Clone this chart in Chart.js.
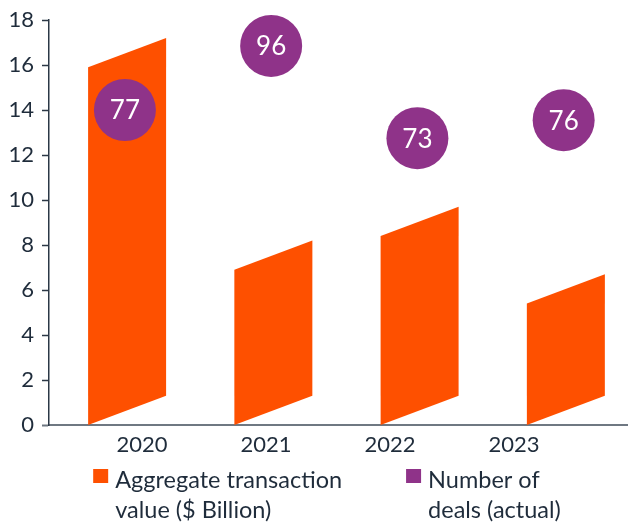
<!DOCTYPE html>
<html>
<head>
<meta charset="utf-8">
<script src="https://cdn.jsdelivr.net/npm/chart.js@4.4.0/dist/chart.umd.min.js"></script>
<style>
  html, body { margin: 0; padding: 0; background: #ffffff; }
  #wrap { width: 628px; height: 523px; }
</style>
</head>
<body>
<div id="wrap"><canvas id="dealChart"></canvas></div>
<script>
// Values
const years = ['2020', '2021', '2022', '2023'];
const aggregateValue = [15.9, 6.9, 8.4, 5.4];        // $ Billion
const dealCount = [77, 96, 73, 76];
const dealMarkerLevel = [14.0, 16.85, 12.75, 13.55];  // height of each deals bubble on the value axis
const valueTicks = [0, 2, 4, 6, 8, 10, 12, 14, 16, 18];
const legendLines = [
    ['Aggregate transaction', 'value ($ Billion)'],
    ['Number of', 'deals (actual)']
];

const ORANGE = '#fe5000';
const PURPLE = '#8f3389';
const TEXT = '#1f2c3b';
const AXIS_GREY = '#6f7882';
const FONT = 'Lato, "Open Sans", sans-serif';
const BAR_SLANT = 1.3;   // the bars are drawn as parallelograms

/**
 * Draw each bar as a slanted parallelogram using the bar element geometry
 */
const slantedBars = {
    id: 'slantedBars',
    afterDatasetDraw(chart, args) {
        if (args.index !== 0) return;
        const ctx = chart.ctx;
        const yScale = chart.scales.y;
        ctx.save();
        ctx.fillStyle = ORANGE;
        args.meta.data.forEach((bar, i) => {
            const left = bar.x - bar.width / 2;
            const right = bar.x + bar.width / 2;
            const v = aggregateValue[i];
            ctx.beginPath();
            ctx.moveTo(left, yScale.getPixelForValue(0));
            ctx.lineTo(right, yScale.getPixelForValue(BAR_SLANT));
            ctx.lineTo(right, yScale.getPixelForValue(v + BAR_SLANT));
            ctx.lineTo(left, yScale.getPixelForValue(v));
            ctx.closePath();
            ctx.fill();
        });
        ctx.restore();
    }
};

/**
 * Write the deal counts inside the bubbles
 */
const bubbleLabels = {
    id: 'bubbleLabels',
    afterDatasetsDraw(chart) {
        const ctx = chart.ctx;
        const meta = chart.getDatasetMeta(1);
        ctx.save();
        ctx.fillStyle = '#ffffff';
        ctx.font = '26px ' + FONT;
        ctx.textAlign = 'center';
        ctx.textBaseline = 'middle';
        meta.data.forEach((pt, i) => {
            ctx.fillText(String(dealCount[i]), pt.x, pt.y + 1);
        });
        ctx.restore();
    }
};

/**
 * Two-line legend under the axis
 */
const twoLineLegend = {
    id: 'twoLineLegend',
    afterDraw(chart) {
        const ctx = chart.ctx;
        const colors = [ORANGE, PURPLE];
        const boxW = 15, boxH = 14, boxGap = 7, itemGap = 64, lineH = 30;
        ctx.save();
        ctx.font = '23.5px ' + FONT;
        const widths = legendLines.map(lines =>
            boxW + boxGap + Math.max(...lines.map(t => ctx.measureText(t).width)));
        const total = widths.reduce((a, b) => a + b, 0) + itemGap * (widths.length - 1);
        let x = chart.width / 2 + 13 - total / 2;
        const top = chart.chartArea.bottom + 44;
        legendLines.forEach((lines, i) => {
            ctx.fillStyle = colors[i];
            ctx.fillRect(x, top, boxW, boxH);
            ctx.fillStyle = TEXT;
            ctx.textAlign = 'left';
            ctx.textBaseline = 'middle';
            lines.forEach((t, j) => {
                ctx.fillText(t, x + boxW + boxGap, top + 11 + j * lineH);
            });
            x += widths[i] + itemGap;
        });
        ctx.restore();
    }
};

const ctx = document.getElementById('dealChart').getContext('2d');
new Chart(ctx, {
    type: 'bar',
    data: {
        datasets: [
            {
                label: legendLines[0].join(' '),
                data: aggregateValue.map((v, i) => ({ x: i, y: v })),
                backgroundColor: 'rgba(0,0,0,0)',
                barThickness: 78,
                order: 2
            },
            {
                type: 'line',
                label: legendLines[1].join(' '),
                data: dealMarkerLevel.map((v, i) => ({ x: i - 0.015, y: v })),
                showLine: false,
                pointRadius: 31,
                pointHoverRadius: 31,
                pointBackgroundColor: PURPLE,
                pointBorderWidth: 0,
                clip: false,
                order: 1
            }
        ]
    },
    options: {
        responsive: true,
        maintainAspectRatio: false,
        animation: false,
        layout: {
            autoPadding: false,
            padding: { top: 20, left: 6, right: 0, bottom: 64 }
        },
        plugins: {
            legend: { display: false },
            tooltip: { enabled: false }
        },
        scales: {
            x: {
                type: 'linear',
                display: false,
                min: -0.534,
                max: 3.425,
                offset: false
            },
            x2: {
                type: 'linear',
                position: 'bottom',
                min: -0.75,
                max: 3.92,
                offset: false,
                bounds: 'data',
                afterBuildTicks: (axis) => {
                    axis.ticks = years.map((_, i) => ({ value: i }));
                },
                afterFit: (scale) => {
                    scale.paddingLeft = 0;
                    scale.paddingRight = 0;
                    scale.height = 34;
                },
                grid: { display: false, drawTicks: false, offset: false },
                border: { display: true, color: AXIS_GREY, width: 2 },
                ticks: {
                    callback: (v) => years[v],
                    color: TEXT,
                    font: { family: FONT, size: 22 },
                    padding: 7,
                    maxRotation: 0,
                    autoSkip: false
                }
            },
            y: {
                min: 0,
                max: 18,
                afterBuildTicks: (axis) => {
                    axis.ticks = valueTicks.map(v => ({ value: v }));
                },
                afterFit: (scale) => {
                    scale.width = 43;
                    scale.paddingTop = 0;
                    scale.paddingBottom = 0;
                },
                grid: {
                    display: true,
                    drawOnChartArea: false,
                    drawTicks: true,
                    tickLength: 7,
                    // the zero tick continues the grey base line to the left
                    tickColor: (c) => (c.tick && c.tick.value === 0 ? AXIS_GREY : '#2b3846'),
                    tickWidth: (c) => (c.tick && c.tick.value === 0 ? 2 : 1.5)
                },
                border: { display: true, color: '#2b3846', width: 1.5 },
                ticks: {
                    color: TEXT,
                    font: { family: FONT, size: 22 },
                    padding: 8
                }
            }
        }
    },
    plugins: [slantedBars, bubbleLabels, twoLineLegend]
});
</script>
</body>
</html>
